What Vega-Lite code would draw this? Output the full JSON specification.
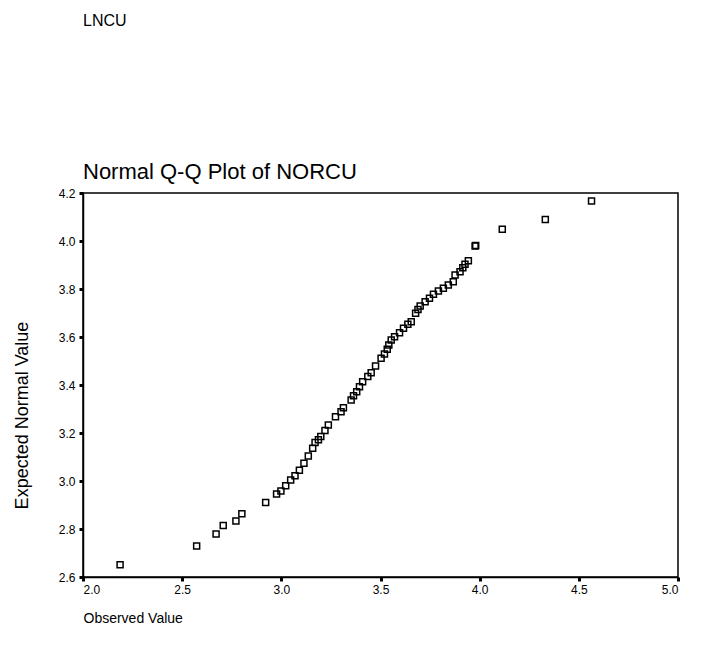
{
  "$schema": "https://vega.github.io/schema/vega-lite/v6.json",
  "width": 595,
  "height": 384,
  "autosize": "none",
  "padding": {"left": 83, "top": 193, "right": 23, "bottom": 73},
  "background": "white",
  "title": {
    "text": "LNCU",
    "subtitle": "Normal Q-Q Plot of NORCU",
    "anchor": "start",
    "frame": "group",
    "font": "Liberation Sans",
    "fontSize": 16,
    "fontWeight": "normal",
    "color": "black",
    "subtitleFont": "Liberation Sans",
    "subtitleFontSize": 22,
    "subtitleColor": "black",
    "subtitlePadding": 133,
    "offset": 4
  },
  "config": {
    "view": {"stroke": "black", "strokeWidth": 1.5},
    "axis": {
      "grid": false,
      "domainColor": "black",
      "domainWidth": 1.5,
      "tickColor": "black",
      "tickSize": 4,
      "tickWidth": 3,
      "labelFont": "Liberation Sans",
      "labelFontSize": 12,
      "labelColor": "black",
      "titleFont": "Liberation Sans",
      "titleFontSize": 14,
      "titleFontWeight": "normal",
      "titleColor": "black"
    }
  },
  "data": {
    "values": [
      {"observed": 2.187, "expected": 2.651},
      {"observed": 2.573, "expected": 2.729},
      {"observed": 2.671, "expected": 2.779},
      {"observed": 2.707, "expected": 2.815},
      {"observed": 2.771, "expected": 2.833},
      {"observed": 2.801, "expected": 2.864},
      {"observed": 2.921, "expected": 2.910},
      {"observed": 2.976, "expected": 2.946},
      {"observed": 2.998, "expected": 2.958},
      {"observed": 3.022, "expected": 2.980},
      {"observed": 3.047, "expected": 3.004},
      {"observed": 3.069, "expected": 3.022},
      {"observed": 3.091, "expected": 3.045},
      {"observed": 3.114, "expected": 3.074},
      {"observed": 3.136, "expected": 3.104},
      {"observed": 3.158, "expected": 3.136},
      {"observed": 3.170, "expected": 3.160},
      {"observed": 3.187, "expected": 3.172},
      {"observed": 3.199, "expected": 3.185},
      {"observed": 3.220, "expected": 3.210},
      {"observed": 3.237, "expected": 3.233},
      {"observed": 3.273, "expected": 3.268},
      {"observed": 3.301, "expected": 3.289},
      {"observed": 3.313, "expected": 3.305},
      {"observed": 3.352, "expected": 3.338},
      {"observed": 3.364, "expected": 3.355},
      {"observed": 3.380, "expected": 3.372},
      {"observed": 3.394, "expected": 3.393},
      {"observed": 3.410, "expected": 3.414},
      {"observed": 3.436, "expected": 3.435},
      {"observed": 3.453, "expected": 3.451},
      {"observed": 3.475, "expected": 3.479},
      {"observed": 3.503, "expected": 3.511},
      {"observed": 3.520, "expected": 3.529},
      {"observed": 3.534, "expected": 3.549},
      {"observed": 3.542, "expected": 3.567},
      {"observed": 3.554, "expected": 3.588},
      {"observed": 3.571, "expected": 3.601},
      {"observed": 3.596, "expected": 3.618},
      {"observed": 3.616, "expected": 3.636},
      {"observed": 3.638, "expected": 3.653},
      {"observed": 3.655, "expected": 3.664},
      {"observed": 3.677, "expected": 3.699},
      {"observed": 3.689, "expected": 3.715},
      {"observed": 3.700, "expected": 3.729},
      {"observed": 3.725, "expected": 3.747},
      {"observed": 3.747, "expected": 3.761},
      {"observed": 3.767, "expected": 3.778},
      {"observed": 3.792, "expected": 3.792},
      {"observed": 3.817, "expected": 3.803},
      {"observed": 3.842, "expected": 3.817},
      {"observed": 3.867, "expected": 3.830},
      {"observed": 3.876, "expected": 3.858},
      {"observed": 3.901, "expected": 3.872},
      {"observed": 3.915, "expected": 3.889},
      {"observed": 3.926, "expected": 3.903},
      {"observed": 3.943, "expected": 3.918},
      {"observed": 3.977, "expected": 3.979},
      {"observed": 3.980, "expected": 3.981},
      {"observed": 4.114, "expected": 4.049},
      {"observed": 4.331, "expected": 4.090},
      {"observed": 4.564, "expected": 4.167}
    ]
  },
  "mark": {"type": "point", "shape": "square", "filled": false, "stroke": "black", "strokeWidth": 1.5, "size": 36, "opacity": 1},
  "encoding": {
    "x": {
      "field": "observed",
      "type": "quantitative",
      "scale": {"domain": [2, 5], "nice": false, "zero": false},
      "axis": {
        "values": [2, 2.5, 3, 3.5, 4, 4.5, 5],
        "format": ".1f",
        "labelPadding": 3,
        "title": "Observed Value",
        "titleAnchor": "start",
        "titleAlign": "left",
        "titleX": 0,
        "titleY": 45,
        "titleBaseline": "alphabetic"
      }
    },
    "y": {
      "field": "expected",
      "type": "quantitative",
      "scale": {"domain": [2.6, 4.2], "nice": false, "zero": false},
      "axis": {
        "values": [2.6, 2.8, 3.0, 3.2, 3.4, 3.6, 3.8, 4.0, 4.2],
        "format": ".1f",
        "labelPadding": 4,
        "title": "Expected Normal Value",
        "titleFontSize": 18,
        "titleX": -61,
        "titleY": 222,
        "titleBaseline": "middle",
        "titleAlign": "center"
      }
    }
  }
}
